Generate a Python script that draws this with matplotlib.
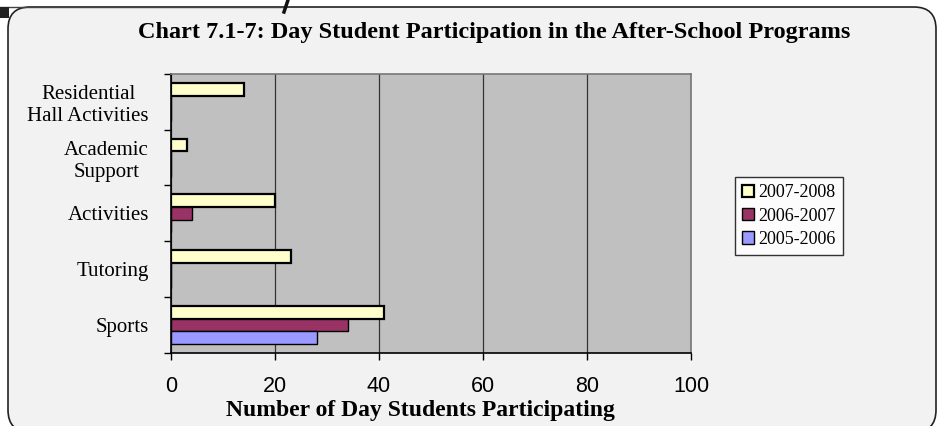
import numpy as np
import matplotlib
matplotlib.use("Agg")
import matplotlib.pyplot as plt
from matplotlib.patches import FancyBboxPatch, Rectangle

# Data
categories = ["Sports", "Tutoring", "Activities", "Academic\nSupport",
              "Residential\nHall Activities"]
years = ["2007-2008", "2006-2007", "2005-2006"]
values_2007_2008 = [41, 23, 20, 3, 14]
values_2006_2007 = [34, 0, 4, 0, 0]
values_2005_2006 = [28, 0, 0, 0, 0]
colors = ["#FFFFCC", "#993366", "#9999FF"]
xticks = [0, 20, 40, 60, 80, 100]

serif = "Liberation Serif"
sans = "Liberation Sans"

fig = plt.figure(figsize=(9.46, 4.26), dpi=100)
fig.patch.set_facecolor("white")

# rounded panel behind the chart (inches, origin bottom-left)
panel = FancyBboxPatch((0.08, -0.06), 9.28, 4.25,
                       boxstyle="round,pad=0,rounding_size=0.22",
                       transform=fig.dpi_scale_trans,
                       facecolor="#F2F2F2", edgecolor="#222222", lw=1.2,
                       zorder=-5)
fig.add_artist(panel)
fig.add_artist(plt.Line2D([0, 2.86], [4.19, 4.19], transform=fig.dpi_scale_trans,
                          color="#444444", lw=1, zorder=-4))
fig.add_artist(plt.Line2D([2.88, 2.84], [4.26, 4.14], transform=fig.dpi_scale_trans,
                          color="#111111", lw=2.5, zorder=-4))
fig.add_artist(Rectangle((0, 4.08), 0.09, 0.11, transform=fig.dpi_scale_trans,
                         facecolor="#222222", edgecolor="none", zorder=-4))

ax = fig.add_axes([0.1808, 0.172, 0.5496, 0.6543])
ax.set_facecolor("#C0C0C0")

y = np.arange(len(categories))
h = 0.227
series = [values_2007_2008, values_2006_2007, values_2005_2006]
for i, (vals, col, lab) in enumerate(zip(series, colors, years)):
    ax.barh(y + h - i * h, vals, height=h, color=col, edgecolor="black",
            lw=1.6 if i == 0 else 1.0, label=lab, zorder=3)

ax.set_xlim(0, 100)
ax.set_ylim(-0.5, len(categories) - 0.5)
ax.set_xticks(xticks)
ax.set_xticklabels([str(t) for t in xticks], fontfamily=sans, fontsize=15.5)
ax.set_yticks(y)
ax.set_yticklabels(categories, fontfamily=serif, fontsize=15,
                   multialignment="center")
ax.set_yticks(np.arange(len(categories) + 1) - 0.5, minor=True)
ax.tick_params(axis="y", which="major", length=0, pad=16)
ax.tick_params(axis="y", which="minor", length=5, direction="out", width=1)
ax.tick_params(axis="x", length=5, direction="out", width=1, pad=12)
ax.grid(axis="x", color="#333333", lw=0.9, zorder=1)

for s in ["left", "bottom"]:
    ax.spines[s].set_color("black")
    ax.spines[s].set_linewidth(1.2)
for s in ["top", "right"]:
    ax.spines[s].set_color("#777777")
    ax.spines[s].set_linewidth(1.2)

ax.set_xlabel("Number of Day Students Participating", fontfamily=serif,
              fontweight="bold", fontsize=17, labelpad=4)
ax.xaxis.set_label_coords(0.48, -0.17)
ax.xaxis.label.set_va("top")
fig.text(494 / 946, 1 - 38 / 426, "Chart 7.1-7: Day Student Participation in the After-School Programs",
         ha="center", va="baseline", fontfamily=serif, fontweight="bold", fontsize=17.5)

leg = ax.legend(loc="upper left", bbox_to_anchor=(735 / 946, 1 - 177 / 426),
                bbox_transform=fig.transFigure, prop={"family": serif, "size": 13},
                frameon=True, fancybox=False, edgecolor="black",
                handlelength=0.65, handleheight=0.65, handletextpad=0.25,
                borderpad=0.4, labelspacing=0.35, borderaxespad=0)
leg.get_frame().set_linewidth(1)

fig.savefig("out.png", dpi=100, facecolor=fig.get_facecolor())
